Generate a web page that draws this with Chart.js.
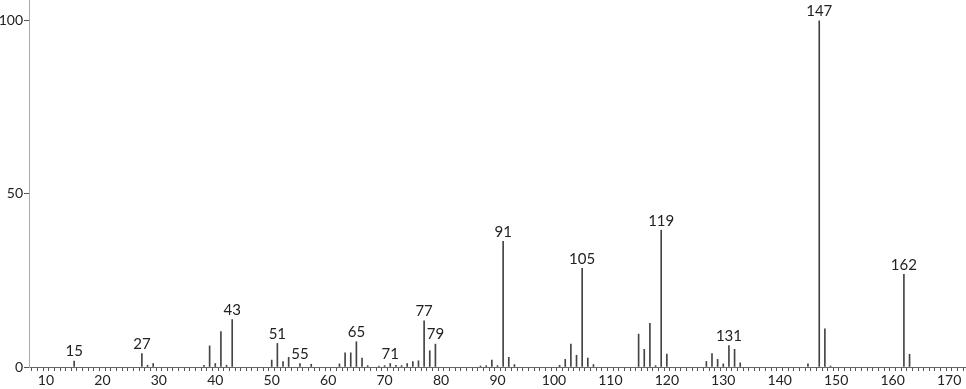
<!DOCTYPE html>
<html>
<head>
    <!-- Mass spectrum, stick plot -->
    <title>Mass Spectrum</title>
    <script src="https://cdn.jsdelivr.net/npm/chart.js"></script>
    <style>
        body { margin: 0; background: #fff; }
    </style>
</head>
<body>
    <canvas id="spectrum" width="966" height="389"></canvas>
<script>
// m/z values and relative intensities
const masses = [15, 27, 28, 29, 38, 39, 40, 41, 42, 43, 50, 51, 52, 53, 55, 57,
    62, 63, 64, 65, 66, 67, 69, 70, 71, 72, 73, 74, 75, 76, 77, 78, 79,
    87, 88, 89, 90, 91, 92, 93, 101, 102, 103, 104, 105, 106, 107,
    115, 116, 117, 118, 119, 120, 127, 128, 129, 130, 131, 132, 133,
    145, 147, 148, 149, 162, 163];
const intensities = [1.7, 3.9, 0.5, 1.0, 0.5, 6.1, 1.0, 10.2, 0.5, 13.7, 2.0, 6.8, 1.6, 2.8, 1.0, 0.8,
    0.9, 4.1, 4.1, 7.3, 2.6, 0.4, 0.3, 0.4, 1.0, 0.5, 0.4, 1.0, 1.6, 1.8, 13.3, 4.7, 6.6,
    0.3, 0.4, 2.0, 0.4, 36.3, 2.8, 0.7, 0.5, 2.2, 6.6, 3.4, 28.5, 2.6, 0.7,
    9.5, 5.1, 12.6, 0.4, 39.5, 3.7, 1.6, 3.9, 2.2, 0.9, 6.2, 5.1, 1.2,
    0.9, 100, 11.0, 0.3, 26.8, 3.7];
// peaks that get their m/z written above them
const labeledMasses = [15, 27, 43, 51, 55, 65, 71, 77, 79, 91, 105, 119, 131, 147, 162];
const yTicks = [0, 50, 100];

const FONT = 'Lato, "DejaVu Sans", sans-serif';

// write the m/z number above the labelled peaks
const peakLabels = {
    id: 'peakLabels',
    afterDatasetsDraw(chart) {
        const ctx = chart.ctx;
        const xs = chart.scales.x, ys = chart.scales.y;
        ctx.save();
        ctx.font = '15px ' + FONT;
        ctx.fillStyle = '#222';
        ctx.textAlign = 'center';
        ctx.textBaseline = 'bottom';
        labeledMasses.forEach(m => {
            const v = intensities[masses.indexOf(m)];
            ctx.fillText(String(m), xs.getPixelForValue(m), ys.getPixelForValue(v) - 2);
        });
        ctx.restore();
    }
};

const ctx = document.getElementById('spectrum').getContext('2d');
const chart = new Chart(ctx, {
    type: 'bar',
    data: {
        datasets: [{
            data: masses.map((m, i) => ({ x: m, y: intensities[i] })),
            backgroundColor: '#444',
            borderWidth: 0,
            barThickness: 1
        }]
    },
    options: {
        responsive: false,
        animation: false,
        devicePixelRatio: 1,
        layout: { padding: 0 },
        plugins: {
            legend: { display: false },
            tooltip: { enabled: false }
        },
        scales: {
            x: {
                type: 'linear',
                min: 7,
                max: 173,
                offset: false,
                afterBuildTicks: scale => {
                    const t = [];
                    for (let v = 7; v <= 173; v++) t.push({ value: v });
                    scale.ticks = t;
                },
                afterFit: scale => {
                    scale.height = 22;
                    scale.paddingLeft = 0;
                    scale.paddingRight = 0;
                },
                ticks: {
                    autoSkip: false,
                    maxRotation: 0,
                    padding: 1,
                    color: '#222',
                    font: { family: FONT, size: 14 },
                    callback: v => (v % 10 === 0 ? String(v) : '')
                },
                grid: {
                    drawOnChartArea: false,
                    tickLength: 4,
                    color: '#555'
                },
                border: { color: '#666', width: 1 }
            },
            y: {
                min: 0,
                max: 106,
                afterBuildTicks: scale => {
                    scale.ticks = yTicks.map(v => ({ value: v }));
                },
                afterFit: scale => {
                    scale.width = 29;
                    scale.paddingTop = 0;
                    scale.paddingBottom = 0;
                },
                ticks: {
                    padding: 1,
                    color: '#222',
                    font: { family: FONT, size: 14 }
                },
                grid: {
                    drawOnChartArea: false,
                    tickLength: 5,
                    color: '#555'
                },
                border: { color: '#aaa', width: 1 }
            }
        }
    },
    plugins: [peakLabels]
});
</script>
</body>
</html>
